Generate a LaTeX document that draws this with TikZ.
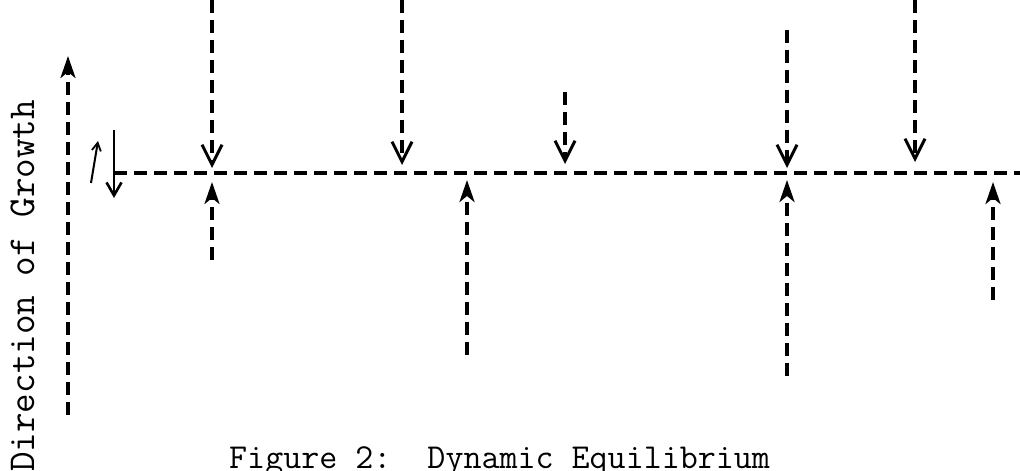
\documentclass[tikz,border=0pt]{standalone}
\usetikzlibrary{arrows.meta}
\tikzset{
  dl/.style={line width=3.4pt, dash pattern=on 13pt off 7pt},
  down/.style={dl, -{Straight Barb[length=20pt,width=20pt,line width=3pt]}},
  up/.style={dl, -{Stealth[length=22pt,width=15pt,inset=6pt]}},
  thin/.style={line width=2.4pt},
  lbl/.style={font=\ttfamily\fontsize{35}{35}\selectfont, inner sep=0pt}
}
\begin{document}
\begin{tikzpicture}[x=1pt,y=-1pt]
\useasboundingbox (0,0) rectangle (1020,471);
% axis
\coordinate (gA) at (68,415);
\coordinate (gB) at (68,56);
\draw[up] (gA) -- (gB);
\node[lbl, font=\ttfamily\fontsize{38}{38}\selectfont, rotate=90, anchor=base west] (dir) at (34,472) {Direction of Growth};
% small arrows
\coordinate (sA) at (91,183);
\coordinate (sB) at (98,141);
\draw[thin, line width=2pt, -{Straight Barb[length=8pt,width=9pt,line width=1.8pt]}] (sA) -- (sB);
\coordinate (sC) at (114,130);
\coordinate (sD) at (114,198);
\draw[thin, -{Straight Barb[length=13pt,width=15pt,line width=2.6pt]}] (sC) -- (sD);
% horizontal
\coordinate (hA) at (114,173);
\coordinate (hB) at (1022,173);
\draw[dl] (hA) -- (hB);
% down arrows
\coordinate (d1a) at (212,0);   \coordinate (d1b) at (212,168);
\coordinate (d2a) at (402,0);   \coordinate (d2b) at (402,165);
\coordinate (d3a) at (565,92);  \coordinate (d3b) at (565,164);
\coordinate (d4a) at (787,30);  \coordinate (d4b) at (787,168);
\coordinate (d5a) at (915,0);   \coordinate (d5b) at (915,162);
\foreach \n in {1,...,5} \draw[down] (d\n a) -- (d\n b);
% up arrows
\coordinate (u1a) at (212,260); \coordinate (u1b) at (212,182);
\coordinate (u2a) at (467,355); \coordinate (u2b) at (467,180);
\coordinate (u3a) at (787,376); \coordinate (u3b) at (787,180);
\coordinate (u4a) at (993,300); \coordinate (u4b) at (993,182);
\foreach \n in {1,...,4} \draw[up] (u\n a) -- (u\n b);
% caption
\node[lbl, anchor=base west] (cap) at (229,468) {Figure 2:\ \ Dynamic Equilibrium};
\end{tikzpicture}
\end{document}
